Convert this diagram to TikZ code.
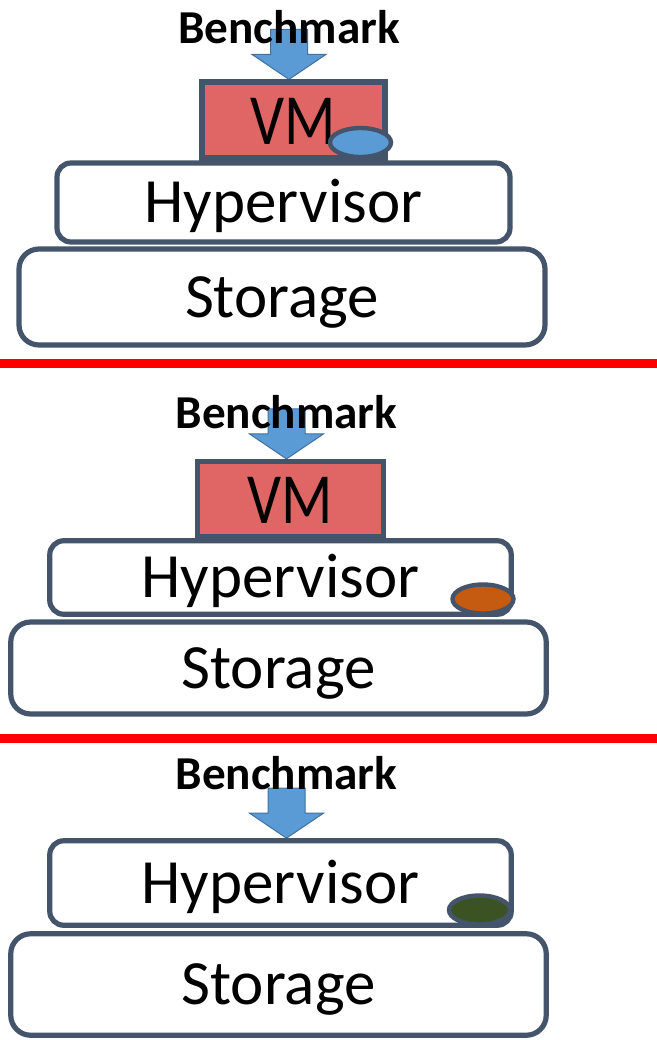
\documentclass[tikz,border=0pt]{standalone}
\usepackage{fontspec}
\usepackage{graphicx}
\setmainfont{Carlito}
\usetikzlibrary{shapes.geometric,backgrounds}

\definecolor{edgegray}{HTML}{44546A}
\definecolor{vmred}{HTML}{E06666}
\definecolor{arrowblue}{HTML}{5B9BD5}
\definecolor{arrowedge}{HTML}{41719C}
\definecolor{diskblue}{HTML}{5B9BD5}
\definecolor{diskorange}{HTML}{C55A11}
\definecolor{diskgreen}{HTML}{3B5323}

\tikzset{
  layer/.style={draw=edgegray, line width=2.6pt, fill=white, rounded corners=7pt,
    inner sep=0pt, font=\fontsize{31.5}{36}\selectfont, text height=20pt, text depth=0pt},
  vmbox/.style={layer, fill=vmred, rounded corners=0pt,
    font=\fontsize{30}{34}\selectfont, text height=24pt},
  disk/.style={ellipse, draw=edgegray, line width=2.2pt, inner sep=0pt,
    minimum width=30.5pt, minimum height=14.5pt},
  bench/.style={anchor=base, inner sep=0pt, font=\bfseries\fontsize{23.6}{28}\selectfont},
  benchArrow/.style={fill=arrowblue, draw=arrowedge, line width=0.5pt},
  sepline/.style={red, line width=4.5pt},
}

\begin{document}
\begin{tikzpicture}[x=0.5pt,y=-0.5pt]
    \useasboundingbox (0,0) rectangle (657,1040);

    % benchmark inside the VM
    \node[layer, rounded corners=10pt, minimum width=263pt, minimum height=48pt] (stoA) at (282,297) {Storage};
    \node[layer, minimum width=226.5pt, minimum height=39.5pt] (hypA) at (283.5,202.5) {Hypervisor};
    \node[vmbox, minimum width=91.5pt, minimum height=38pt] (vmA) at (293.5,120) {\scalebox{1}[1.2]{VM}};
    \node[disk, fill=diskblue] (diskA) at (360.5,142.5) {};
    \node[bench] (benchA) at (289,43) {Benchmark};
    \begin{scope}[on background layer]
    \draw[benchArrow] (benchA.base |- vmA.north) -- ++(-37,-25) -- ++(18.5,0) -- ++(0,-25)
        -- ++(37,0) -- ++(0,25) -- ++(18.5,0) -- cycle;
    \end{scope}

    \draw[sepline] (0,363) -- (657,363);

    % benchmark inside the VM, disk at the hypervisor
    \node[layer, rounded corners=10pt, minimum width=267.75pt, minimum height=46pt] (stoB) at (278.5,668) {Storage};
    \node[layer, minimum width=230.75pt, minimum height=36.75pt] (hypB) at (280.5,577.5) {Hypervisor};
    \node[vmbox, minimum width=92.75pt, minimum height=37.5pt] (vmB) at (290.5,499) {\scalebox{1}[1.2]{VM}};
    \node[disk, fill=diskorange] (diskB) at (483,599) {};
    \node[bench] (benchB) at (286.5,428) {Benchmark};
    \begin{scope}[on background layer]
    \draw[benchArrow] (benchB.base |- vmB.north) -- ++(-37,-25) -- ++(18.5,0) -- ++(0,-25)
        -- ++(37,0) -- ++(0,25) -- ++(18.5,0) -- cycle;
    \end{scope}

    \draw[sepline] (0,738) -- (657,738);

    % benchmark on the hypervisor
    \node[layer, rounded corners=10pt, minimum width=267.75pt, minimum height=50.75pt] (stoC) at (278.5,984.5) {Storage};
    \node[layer, minimum width=230.75pt, minimum height=42.25pt] (hypC) at (280.5,883) {Hypervisor};
    \node[disk, fill=diskgreen] (diskC) at (479.5,910) {};
    \node[bench] (benchC) at (286.5,789) {Benchmark};
    \begin{scope}[on background layer]
    \draw[benchArrow] (benchC.base |- hypC.north) -- ++(-37,-25) -- ++(18.5,0) -- ++(0,-25)
        -- ++(37,0) -- ++(0,25) -- ++(18.5,0) -- cycle;
    \end{scope}
\end{tikzpicture}
\end{document}
